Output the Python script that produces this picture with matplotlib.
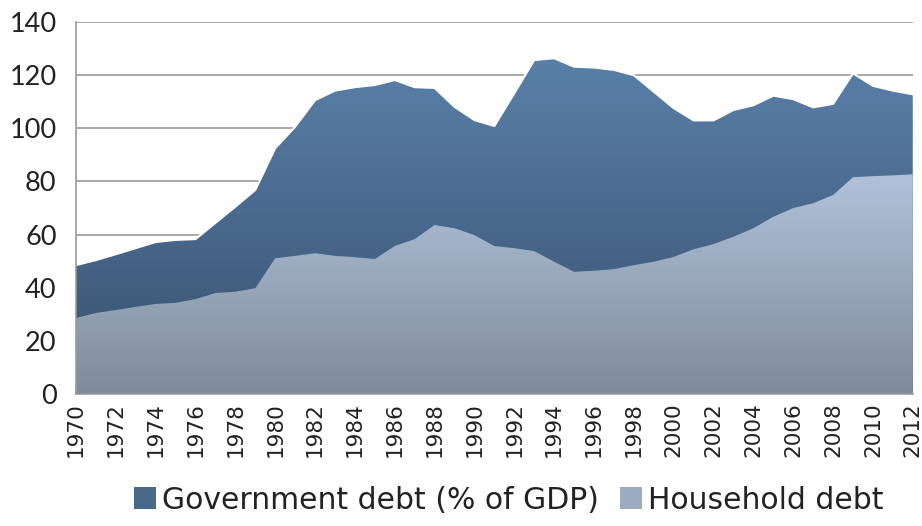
import numpy as np
import matplotlib
matplotlib.use("Agg")
import matplotlib.pyplot as plt
from matplotlib.colors import LinearSegmentedColormap
from matplotlib.patches import Patch

years = list(range(1970, 2013))

household = [28.6, 30.5, 31.6, 32.8, 33.9, 34.3, 35.7, 38.0, 38.5, 39.8,
             51.1, 52.0, 53.0, 52.0, 51.5, 50.8, 55.7, 58.3, 63.6, 62.4,
             59.8, 55.7, 54.9, 53.8, 49.8, 46.0, 46.4, 47.0, 48.5, 49.8,
             51.6, 54.5, 56.4, 59.2, 62.4, 66.7, 70.0, 71.8, 74.9, 81.6,
             82.0, 82.3, 82.7]

government = [19.9, 19.9, 21.0, 22.1, 23.3, 23.7, 22.6, 26.4, 32.0, 37.0,
              41.4, 48.6, 57.6, 62.2, 64.0, 65.5, 62.5, 57.2, 51.6, 45.7,
              43.3, 45.2, 58.3, 71.9, 76.6, 77.2, 76.5, 75.0, 71.5, 64.0,
              56.0, 48.5, 46.6, 47.7, 46.3, 45.6, 41.0, 36.1, 34.3, 39.1,
              34.0, 31.9, 30.1]

labels = ["Government debt (% of GDP)", "Household debt"]


def gradient_fill(ax, x, lower, upper, c_top, c_bot, z):
    poly = ax.fill_between(x, lower, upper, facecolor="none", edgecolor="none")
    cmap = LinearSegmentedColormap.from_list("g", [c_bot, c_top])
    grad = np.linspace(0, 1, 256).reshape(-1, 1)
    im = ax.imshow(grad, cmap=cmap, aspect="auto", origin="lower",
                   extent=[x[0], x[-1], 0, max(upper)], zorder=z)
    im.set_clip_path(poly.get_paths()[0], transform=ax.transData)


x = np.array(years)
hh = np.array(household)
total = hh + np.array(government)

fig = plt.figure(figsize=(9.22, 5.26), dpi=100)
ax = fig.add_axes([0.0824, 0.251, 0.9076, 0.707])

for v in range(20, 141, 20):
    ax.axhline(v, color="#9a9a9a", lw=1.2, zorder=1)

gradient_fill(ax, x, np.zeros_like(total), total, "#5a80a8", "#37506e", 2)
ax.plot(x, total, color="white", lw=1.5, zorder=3)
gradient_fill(ax, x, np.zeros_like(hh), hh, "#b0c2da", "#7f8b9b", 4)

ax.set_xlim(1970, 2012)
ax.set_ylim(0, 140)
ax.set_yticks(range(0, 141, 20))
ax.set_xticks(years[::2])
ax.set_xticklabels([str(y) for y in years[::2]], rotation=90,
                   fontsize=15.5, color="#222222")
for t in ax.get_yticklabels():
    t.set_fontsize(19.5)
    t.set_family("Lato")
    t.set_color("#222222")
ax.tick_params(length=0, pad=6)
ax.tick_params(axis="y", pad=14)

for s in ["top", "right"]:
    ax.spines[s].set_visible(False)
for s in ["left", "bottom"]:
    ax.spines[s].set_color("#9a9a9a")
    ax.spines[s].set_linewidth(1.2)
    ax.spines[s].set_zorder(5)

handles = [Patch(facecolor="#4a6889", edgecolor="none"),
           Patch(facecolor="#9aabc2", edgecolor="none")]
fig.legend(handles, labels, loc="center", bbox_to_anchor=(0.552, 0.049),
           ncol=2, frameon=False, fontsize=21.5, handlelength=0.75,
           handleheight=0.75, handletextpad=0.2, columnspacing=0.7,
           labelcolor="#222222")

fig.savefig("out.png", dpi=100)
